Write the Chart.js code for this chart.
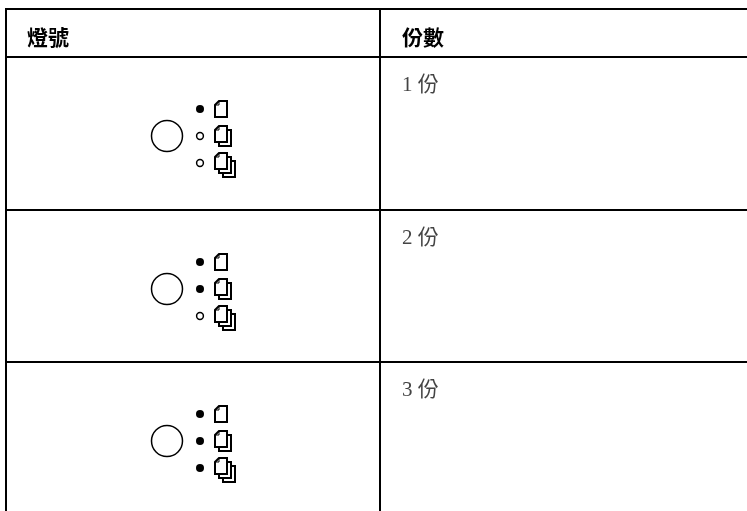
<!DOCTYPE html>
<html>
<head>
<meta charset="utf-8">
<title>燈號 份數</title>
<script src="https://cdn.jsdelivr.net/npm/chart.js@4/dist/chart.umd.js"></script>
<style>
    html, body { margin: 0; padding: 0; background: #fff; }
    canvas { display: block; }
</style>
</head>
<body>
<canvas id="chart" width="747" height="511"></canvas>
<script>
    // Nội dung bảng
    const headers = ["燈號", "份數"];
    const copyLabels = ["1 份", "2 份", "3 份"];

    // Đường kẻ bảng (tọa độ theo trục x, y)
    const columnLines = [6, 380];
    const rowLines = [9, 57, 210, 362];
    const tableRight = 747;
    const tableBottom = 511;

    // Đèn: 1 = sáng, 0 = tắt
    const ledStates = [[1, 0, 0], [1, 1, 0], [1, 1, 1]];
    const ledX = 200;
    const ledY = [[109, 136, 163], [262, 289, 316], [414, 441, 468]];
    const buttonX = 167;
    const buttonY = [136, 289, 441];
    const pageX = [221, 223, 225];
    const pageY = [[109, 136, 165], [262, 289, 318], [414, 441, 470]];

    // Vị trí chữ
    const headerX = [27, 402];
    const headerY = 37;
    const labelX = 402;
    const labelY = [85, 238, 390];

    // Vẽ biểu tượng xấp giấy thành canvas để dùng làm pointStyle
    function makePageIcon(copies) {
        const w = 12, h = 16, step = 4;
        const icon = document.createElement("canvas");
        icon.width = w + step * (copies - 1) + 2;
        icon.height = h + step * (copies - 1) + 2;
        const ctx = icon.getContext("2d");
        ctx.strokeStyle = "#000";
        ctx.fillStyle = "#fff";
        for (let i = copies - 1; i >= 0; i--) {
            const x = 1 + i * step, y = 1 + i * step;
            ctx.lineWidth = 2;
            ctx.beginPath();
            ctx.moveTo(x + 4, y);
            ctx.lineTo(x + w, y);
            ctx.lineTo(x + w, y + h);
            ctx.lineTo(x, y + h);
            ctx.lineTo(x, y + 4);
            ctx.closePath();
            ctx.fill();
            ctx.stroke();
            // Góc giấy gấp
            ctx.lineWidth = 1;
            ctx.beginPath();
            ctx.moveTo(x + 4, y);
            ctx.lineTo(x + 4, y + 4);
            ctx.lineTo(x, y + 4);
            ctx.stroke();
        }
        return icon;
    }

    const pageIcons = [makePageIcon(1), makePageIcon(2), makePageIcon(3)];

    // Đường kẻ
    const lineDatasets = [];
    rowLines.forEach((y) => {
        lineDatasets.push({
            data: [{ x: columnLines[0] - 1, y: y }, { x: tableRight, y: y }],
            showLine: true, borderColor: "#000", borderWidth: 2, pointRadius: 0
        });
    });
    columnLines.forEach((x) => {
        lineDatasets.push({
            data: [{ x: x, y: rowLines[0] - 1 }, { x: x, y: tableBottom }],
            showLine: true, borderColor: "#000", borderWidth: 2, pointRadius: 0
        });
    });

    // Đèn sáng / tắt
    const litPoints = [], offPoints = [];
    ledStates.forEach((row, r) => {
        row.forEach((on, i) => {
            (on ? litPoints : offPoints).push({ x: ledX, y: ledY[r][i] });
        });
    });

    const markDatasets = [
        {
            data: buttonY.map((y) => ({ x: buttonX, y: y })),
            pointRadius: 15.5, pointBackgroundColor: "#fff",
            pointBorderColor: "#000", pointBorderWidth: 1.5
        },
        {
            data: litPoints,
            pointRadius: 4, pointBackgroundColor: "#000",
            pointBorderColor: "#000", pointBorderWidth: 0
        },
        {
            data: offPoints,
            pointRadius: 3.4, pointBackgroundColor: "#fff",
            pointBorderColor: "#000", pointBorderWidth: 1.5
        }
    ];

    // Mỗi loại xấp giấy là một dataset
    pageIcons.forEach((icon, c) => {
        markDatasets.push({
            data: pageY.map((ys) => ({ x: pageX[c], y: ys[c] })),
            pointStyle: icon
        });
    });

    // Plugin vẽ chữ theo trục
    const tableText = {
        id: "tableText",
        afterDatasetsDraw(chart) {
            const { ctx, scales } = chart;
            ctx.save();
            ctx.textBaseline = "middle";
            ctx.fillStyle = "#000";
            ctx.font = "bold 21px 'Noto Sans CJK TC'";
            headers.forEach((text, i) => {
                ctx.fillText(text, scales.x.getPixelForValue(headerX[i]), scales.y.getPixelForValue(headerY));
            });
            ctx.fillStyle = "#444";
            ctx.font = "21px 'Liberation Serif', 'Noto Sans CJK TC'";
            copyLabels.forEach((text, i) => {
                ctx.fillText(text, scales.x.getPixelForValue(labelX), scales.y.getPixelForValue(labelY[i]));
            });
            ctx.restore();
        }
    };

    new Chart(document.getElementById("chart"), {
        type: "scatter",
        data: { datasets: markDatasets.concat(lineDatasets) },
        options: {
            responsive: false,
            animation: false,
            layout: { padding: 0, autoPadding: false },
            plugins: { legend: { display: false }, tooltip: { enabled: false } },
            scales: {
                x: { type: "linear", display: false, min: 0, max: tableRight },
                y: { type: "linear", display: false, reverse: true, min: 0, max: tableBottom }
            }
        },
        plugins: [tableText]
    });
</script>
</body>
</html>
